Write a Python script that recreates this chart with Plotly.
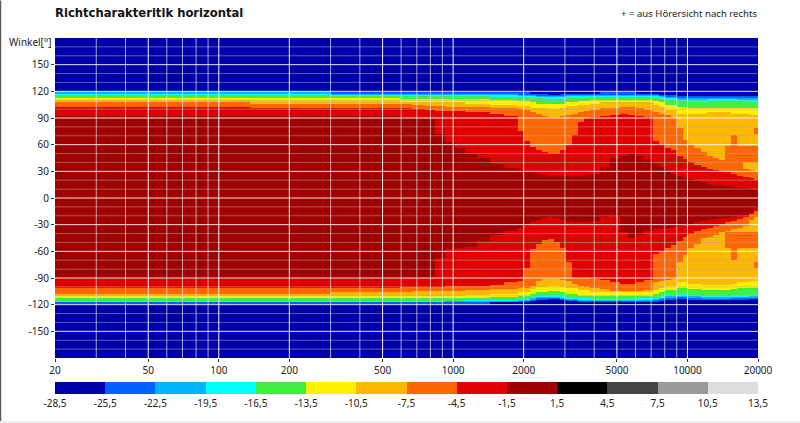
import numpy as np
import plotly.graph_objects as go

# the outer bands change slowly, so they were read on wider columns (limits in Hz)
outer_freq_edges = [20, 51, 136, 298, 592, 757, 921, 1121, 1433, 1886, 2079, 2294, 2532, 2793, 3080, 3398,
                    3825, 4430, 5134, 5947, 7098, 7601, 8222, 9071, 10010, 11041, 12180, 13438, 14825,
                    16356, 18046, 19140, 20000]

# angle where each colour band ends per column, positive side (from +180 going down)
up_darkblue = [120.2, 120.2, 119.8, 119.2, 119, 119, 119, 119, 118.7, 118.4, 117.8, 117, 116.7, 117, 117.6, 117.8, 118.1, 118.4, 118.4, 118.1, 117.6, 116.8, 115.9, 114.8, 114.8, 114.8, 115.3, 115.3, 115.3, 115, 114.8, 114.8]
up_blue = [118.8, 118.8, 118.4, 117.8, 117.6, 117.6, 117.4, 117.4, 117, 116.7, 116, 115.2, 115, 115.2, 115.8, 116, 116.4, 116.7, 116.7, 116.4, 115.8, 114.8, 113.6, 112.4, 112.2, 112.2, 112.8, 112.8, 112.8, 112.4, 112.2, 112.2]
up_sky = [117.8, 117.8, 117.4, 116.8, 116.4, 116.4, 116.2, 116.2, 115.8, 115.4, 114.8, 113.8, 113.6, 113.8, 114.6, 114.8, 115.2, 115.6, 115.6, 115.2, 114.6, 113.4, 112, 110.4, 110, 110, 110.8, 110.8, 110.8, 110.2, 110, 110]
up_cyan = [116.6, 116.6, 116.2, 115.6, 114.8, 114.6, 114.6, 114.6, 114.2, 113.8, 113, 112, 111.6, 111.8, 112.8, 113, 113.6, 114, 114, 113.6, 112.8, 111.4, 110, 108.4, 108, 108, 108.8, 108.8, 108.8, 108.2, 108, 108]
up_green = [112.7, 112.7, 112.5, 112.1, 111.5, 111.3, 111.1, 110.8, 110.3, 109.1, 108, 106.6, 105.9, 106.6, 108, 109.1, 109.7, 110.1, 110.4, 109.7, 108.6, 106.9, 104.6, 102.4, 101.5, 101.5, 101.8, 101.8, 101.8, 101.3, 100.7, 100.7]
up_yellow = [109.7, 109.7, 109.3, 108.9, 107.8, 107.4, 107.1, 106.3, 105.2, 103.5, 101.8, 100.7, 100.3, 101, 103.5, 105.2, 106.3, 107.2, 107.8, 106.9, 105.2, 102.4, 98.4, 95.1, 94.5, 95.6, 96.5, 96.2, 95.6, 94.5, 93.9, 93.9]

# same for the negative side (from -180 going up)
lo_darkblue = [-118.9, -118.9, -118.9, -118.7, -118.6, -118.6, -118.4, -118.2, -118, -117.2, -115.8, -114.6, -114.2, -115, -116.2, -117, -117.4, -117.8, -118, -117.8, -117, -116, -114.8, -114, -114.4, -115, -115, -115, -114.8, -114.4, -114.2, -114.2]
lo_blue = [-118, -118, -118, -117.8, -117.7, -117.7, -117.5, -117.2, -116.9, -116, -114.4, -113, -112.6, -113.6, -115, -115.8, -116.2, -116.4, -116.4, -116, -115, -113.6, -112.4, -111.6, -112.6, -113.6, -113.6, -113.6, -113, -112.6, -112.4, -112.4]
lo_sky = [-117.2, -117.2, -117.2, -117, -116.9, -116.9, -116.7, -116.4, -116, -115, -113, -111.4, -111, -112, -113.6, -114.6, -115, -115, -115, -114.6, -113.6, -112, -110.3, -109.5, -110.6, -111.8, -111.8, -111.8, -111.2, -110.8, -110.6, -110.6]
lo_cyan = [-116.4, -116.4, -116.4, -116.1, -115.9, -115.9, -115.7, -115.3, -114.8, -113.6, -111.4, -109.7, -109.3, -110.3, -112, -113.1, -113.6, -113.6, -113.4, -113.1, -112, -110.3, -108.6, -107.4, -108.6, -109.7, -109.7, -109.7, -109.1, -108.6, -108.6, -108.6]
lo_green = [-113.1, -113.1, -113, -112.8, -112.5, -112.2, -112.2, -112, -111.1, -109.7, -107.4, -105.8, -105.2, -105.8, -108, -109.7, -110.3, -110.3, -110.3, -109.7, -108, -105.8, -103.5, -101.8, -102.9, -104.1, -104.1, -103.5, -102.4, -101.8, -101.8, -101.8]
lo_yellow = [-110.5, -110.5, -110.3, -110, -109.7, -109.7, -109.5, -109.1, -108, -105.8, -102.4, -99.6, -98.4, -99.6, -101.8, -104.1, -105.8, -106.3, -106.3, -105.8, -104.1, -101.8, -99, -95.6, -96.2, -97.3, -97.9, -97.3, -96.2, -94.5, -93.9, -93.9]

# the inner bands have the shapes in them, so finer columns here
freq_edges = [20, 51, 136, 298, 592, 666, 757, 835, 921, 1016, 1121, 1260, 1433, 1643, 1886, 2000, 2120, 2250,
              2387, 2532, 2686, 2848, 3021, 3204, 3398, 3606, 3825, 4220, 4653, 5134, 5554, 6007, 6495, 7098,
              7530, 7988, 8474, 8989, 9528, 10100, 10715, 11368, 12057, 12794, 13575, 14394, 15264, 16194,
              17179, 18218, 19314, 20000]

up_amber = [106.9, 106.9, 106.7, 106.7, 105.8, 104.6, 103.7, 103.2, 102.9, 102.7, 102.4, 102.3, 101.8, 100.9, 99.6, 98.4, 96.8, 95.1, 92.8, 91.1, 91.1, 92.3, 93.9, 95.6, 96.8, 97.3, 99, 100.7, 101.8, 102.7, 102.4, 101.3, 99, 96.5, 95.6, 93.9, 91.7, 78.2, 64.7, 60.2, 55.7, 51.2, 47.8, 44.4, 42.2, 38.8, 36.6, 34.3, 32.6, 30.9, 29.8]
up_orange = [102.2, 102.2, 101.3, 101.3, 100.7, 99.6, 98.4, 97.7, 97.3, 97.1, 96.8, 96.2, 95.1, 92.3, 74.8, 63.6, 57.2, 54, 51.2, 50.1, 50.6, 53.4, 60.2, 71.4, 84.9, 90.6, 91.1, 92.3, 93.4, 94.5, 94.2, 92.8, 91.1, 63.6, 61.3, 56.8, 53.4, 47.8, 43.3, 39.9, 37.1, 34.9, 32.6, 30.9, 29.8, 28.7, 27.6, 25.3, 23.6, 21.9, 20.3]
up_red = [92.8, 92.8, 92.5, 92.2, 91.1, 89.4, 88.3, 72.6, 62.4, 55.7, 49.5, 44.4, 38.8, 34.3, 32.1, 30.4, 28.7, 27.6, 26.4, 25.3, 25.3, 25.3, 25.3, 25.3, 25.3, 25.9, 27, 35.4, 44.4, 47.8, 49.5, 47.3, 43.3, 38.8, 35.4, 30.9, 28.1, 25.3, 23.1, 20.8, 19.1, 17.4, 16.3, 15.2, 14.6, 14.1, 12.9, 11.8, 10.7, 9.6, 8.4]

lo_amber = [-107.4, -107.4, -106.9, -106.3, -105.8, -105.4, -105.2, -105, -104.6, -104.4, -104.1, -103.5, -102.9, -102.4, -101.8, -100.7, -98.4, -93.9, -91.7, -91.1, -90.9, -92.3, -93.9, -96.2, -98.4, -99.6, -100.7, -102.9, -104.6, -105.2, -105.2, -104.6, -103.5, -95.1, -93.9, -92.8, -91.7, -72.6, -63.6, -56.8, -51.2, -45.6, -43.3, -41.1, -38.8, -37.1, -35.4, -33.8, -31.5, -25.3, -20.8]
lo_orange = [-101.8, -101.8, -101.3, -100.7, -100.4, -100.1, -99.9, -99.6, -99.3, -99, -98.7, -98.4, -97.3, -95.1, -93.9, -79.3, -57.9, -51.8, -47.8, -46.7, -50.1, -56.8, -72.6, -90.6, -90.6, -90.6, -91.1, -92.8, -94.5, -95.9, -95.9, -94.5, -92.8, -62.4, -60.8, -56.8, -52.3, -48.9, -43.9, -40.5, -37.1, -34.9, -33.2, -30.9, -29.3, -27.6, -25.9, -23.6, -20.8, -16.3, -11.8]
lo_red = [-91.7, -91.7, -91.7, -91.1, -90.6, -90.6, -90, -68.1, -57.9, -56.3, -54.6, -48.9, -41.1, -37.7, -34.3, -30.9, -27.6, -24.8, -22.5, -21.4, -22.5, -25.3, -27.6, -27.6, -27.6, -27.6, -26.4, -20.8, -19.7, -38.8, -45.6, -41.6, -37.7, -35.4, -34.3, -33.2, -32.1, -30.9, -29.8, -28.7, -27.6, -26.4, -25.3, -24.2, -23.1, -21.9, -20.8, -19.7, -18.6, -16.9, -15.2]

# orange spots inside the amber area at the top end (column number, angle from, angle to)
spot_column = [45, 46, 47, 48, 49, 50, 46, 50, 45, 46, 47, 48, 49, 50, 46, 50]
spot_top = [59, 71.4, 59, 59, 59, 59, 71.4, 79.3, -38.8, -38.8, -38.8, -38.8, -38.8, -38.8, -56.8, -72.6]
spot_bottom = [34, 34, 34, 40, 40, 40, 59, 72.6, -56.8, -56.8, -56.8, -56.8, -56.8, -56.8, -70.3, -79.3]

band_levels = [-27, -24, -21, -18, -15, -12, -9, -6, -3, 0]
scale_ticks = [-28.5, -25.5, -22.5, -19.5, -16.5, -13.5, -10.5, -7.5, -4.5, -1.5, 1.5, 4.5, 7.5, 10.5, 13.5]
scale_labels = ['-28,5', '-25,5', '-22,5', '-19,5', '-16,5', '-13,5', '-10,5', '-7,5', '-4,5', '-1,5',
                '1,5', '4,5', '7,5', '10,5', '13,5']
scale_colors = ['#0000AA', '#0060FF', '#00B4FF', '#00FFFF', '#40F040', '#FFF000', '#FFB800', '#FF6600',
                '#E00000', '#A00000', '#000000', '#444444', '#999999', '#DDDDDD']

freq_ticks = [20, 50, 100, 200, 500, 1000, 2000, 5000, 10000, 20000]
freq_minor = [30, 40, 60, 70, 80, 90, 300, 400, 600, 700, 800, 900, 3000, 4000, 6000, 7000, 8000, 9000]
angle_ticks = [150, 120, 90, 60, 30, 0, -30, -60, -90, -120, -150]
angle_minor = [170, 160, 140, 130, 110, 100, 80, 70, 50, 40, 20, 10, -10, -20, -40, -50, -70, -80,
               -100, -110, -130, -140, -160, -170]

PLOT_L, PLOT_R, PLOT_T, PLOT_B = 55, 758.5, 37.5, 357.7
plot_w = PLOT_R - PLOT_L
plot_h = PLOT_B - PLOT_T

upper_outer = np.array([up_darkblue, up_blue, up_sky, up_cyan, up_green, up_yellow])
lower_outer = np.array([lo_darkblue, lo_blue, lo_sky, lo_cyan, lo_green, lo_yellow])
upper_inner = np.array([up_amber, up_orange, up_red])
lower_inner = np.array([lo_amber, lo_orange, lo_red])

angle_edges = np.arange(-180, 180.01, 1.25)
angles = (angle_edges[:-1] + angle_edges[1:]) / 2
freq_mid = np.sqrt(np.array(freq_edges[:-1]) * np.array(freq_edges[1:]))
outer_col = np.searchsorted(outer_freq_edges, freq_mid) - 1

z = np.zeros((len(angles), len(freq_mid)))
for i, a in enumerate(angles):
    for j in range(len(freq_mid)):
        k = outer_col[j]
        if a >= 0:
            band = int((a < upper_outer[:, k]).sum() + (a < upper_inner[:, j]).sum())
        else:
            band = int((a > lower_outer[:, k]).sum() + (a > lower_inner[:, j]).sum())
        z[i, j] = band_levels[band]

for col, top, bottom in zip(spot_column, spot_top, spot_bottom):
    z[(angles < top) & (angles > bottom), col] = -6

colorscale = []
for k, c in enumerate(scale_colors):
    colorscale.append([k / len(scale_colors), c])
    colorscale.append([(k + 1) / len(scale_colors), c])

fig = go.Figure()
fig.add_trace(go.Heatmap(
    x=freq_edges, y=angle_edges, z=z, zmin=-28.5, zmax=13.5, colorscale=colorscale, hoverinfo='skip',
    colorbar=dict(orientation='h', x=0, xanchor='left', y=(PLOT_B - 382) / plot_h, yanchor='top',
                  lenmode='fraction', len=1, thickness=12, thicknessmode='pixels', xpad=0, ypad=0,
                  outlinewidth=0, tickmode='array', tickvals=scale_ticks, ticktext=scale_labels,
                  ticks='', tickfont=dict(family='Noto Sans', size=10, color='#222222')),
))


def vlines(freqs):
    xs, ys = [], []
    for f in freqs:
        xs += [f, f, None]
        ys += [-180, 180, None]
    return xs, ys


def hlines(angs):
    xs, ys = [], []
    for a in angs:
        xs += [20, 20000, None]
        ys += [a, a, None]
    return xs, ys


# gridlines go over the map in the original, so they are traces here
for make, values, color in [(hlines, angle_minor, 'rgba(170,170,170,0.55)'),
                            (vlines, freq_minor, 'rgba(230,230,230,0.7)'),
                            (hlines, angle_ticks, 'rgba(255,255,255,0.9)'),
                            (vlines, freq_ticks[1:-1], 'rgba(255,255,255,0.95)')]:
    xs, ys = make(values)
    fig.add_trace(go.Scatter(x=xs, y=ys, mode='lines', line=dict(color=color, width=1),
                             hoverinfo='skip', showlegend=False))

fig.update_xaxes(type='log', range=[np.log10(20), np.log10(20000)], tickmode='array', tickvals=freq_ticks,
                 ticktext=[str(f) for f in freq_ticks], ticks='outside', ticklen=3, tickcolor='#333333',
                 showgrid=False, zeroline=False, tickfont=dict(family='Noto Sans', size=10, color='#222222'))
fig.update_yaxes(range=[-180, 180], tickmode='array', tickvals=angle_ticks,
                 ticktext=[str(a) for a in angle_ticks], ticks='outside', ticklen=3,
                 tickcolor='#333333', showgrid=False, zeroline=False,
                 tickfont=dict(family='Noto Sans', size=10, color='#222222'))

fig.update_layout(
    width=800, height=423, paper_bgcolor='white', plot_bgcolor='white', showlegend=False,
    margin=dict(l=PLOT_L, r=800 - PLOT_R, t=PLOT_T, b=423 - PLOT_B, pad=0, autoexpand=False),
    title=dict(text='<b>Richtcharakteritik horizontal</b>', x=PLOT_L / 800, xanchor='left', y=1 - 12.5 / 423,
               yanchor='middle', font=dict(family='DejaVu Sans', size=11.6, color='#111111')),
    annotations=[
        dict(text='+ = aus Hörersicht nach rechts', xref='paper', yref='paper', x=1 + 2 / plot_w, xanchor='right',
             y=(PLOT_B - 13) / plot_h, yanchor='middle', showarrow=False,
             font=dict(family='Noto Sans', size=9.6, color='#222222')),
        dict(text='Winkel[°]', xref='paper', yref='paper', x=-2 / plot_w, xanchor='right',
             y=(PLOT_B - 42) / plot_h, yanchor='middle', showarrow=False,
             font=dict(family='Noto Sans', size=10, color='#222222')),
    ],
    shapes=[
        # window edge of the screenshot
        dict(type='rect', xref='paper', yref='paper', x0=-PLOT_L / plot_w, x1=(1.2 - PLOT_L) / plot_w,
             y0=(PLOT_B - 423) / plot_h, y1=PLOT_B / plot_h, fillcolor='#555555', line_width=0),
        dict(type='rect', xref='paper', yref='paper', x0=-PLOT_L / plot_w, x1=(800 - PLOT_L) / plot_w,
             y0=(PLOT_B - 423) / plot_h, y1=(PLOT_B - 420.8) / plot_h, fillcolor='#EEEEEE', line_width=0),
    ],
)

fig.write_html("out.html", config={'displayModeBar': False}, post_script="document.body.style.margin='0';")
